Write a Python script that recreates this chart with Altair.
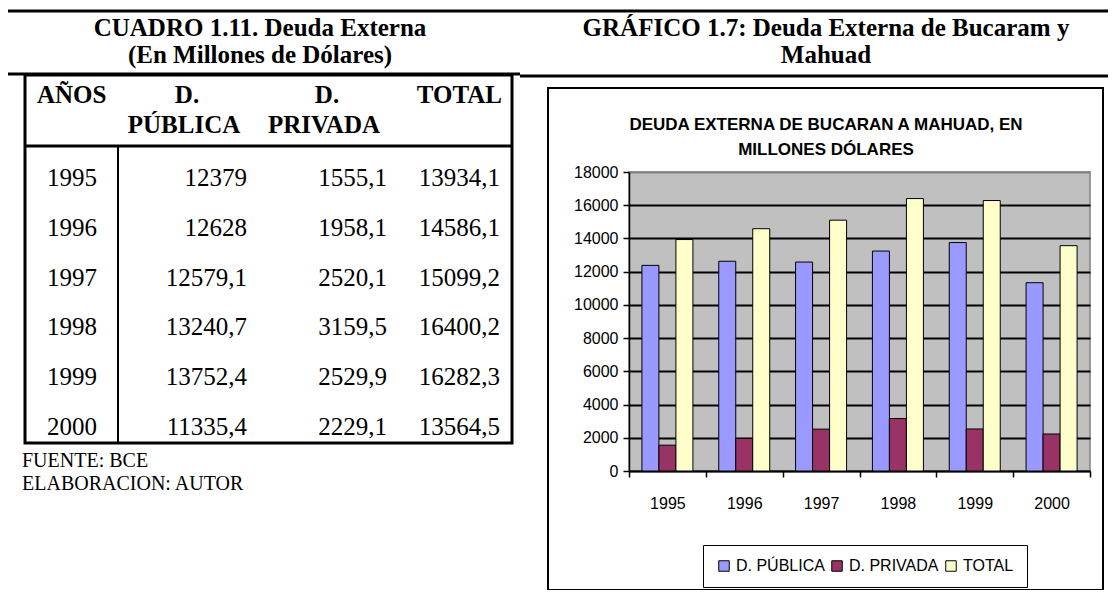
import altair as alt
import pandas as pd

# ---------------- data ----------------
years = ["1995", "1996", "1997", "1998", "1999", "2000"]
publica = [12379, 12628, 12579.1, 13240.7, 13752.4, 11335.4]
privada = [1555.1, 1958.1, 2520.1, 3159.5, 2529.9, 2229.1]
total = [13934.1, 14586.1, 15099.2, 16400.2, 16282.3, 13564.5]
series = ["D. PÚBLICA", "D. PRIVADA", "TOTAL"]
colors = ["#9999FF", "#993366", "#FFFFCC"]
y_ticks = [0, 2000, 4000, 6000, 8000, 10000, 12000, 14000, 16000, 18000]


def fmt(v):
    return str(int(v)) if float(v).is_integer() else f"{v:.1f}".replace(".", ",")


bars_df = pd.DataFrame(
    [
        {"year": y, "series": s, "value": v}
        for i, y in enumerate(years)
        for s, v in zip(series, (publica[i], privada[i], total[i]))
    ]
)
table_df = pd.DataFrame(
    {
        "year": years,
        "pub": [fmt(v) for v in publica],
        "priv": [fmt(v) for v in privada],
        "tot": [fmt(v) for v in total],
    }
)
one = pd.DataFrame({"k": [0]})

SERIF = "Liberation Serif"
SANS = "Liberation Sans"

W, H = 461, 299


def label(txt, x, y, **kw):
    return alt.Chart(one).mark_text(text=txt, **kw).encode(x=alt.value(x), y=alt.value(y))


def hline(x1, x2, y, w=3):
    return alt.Chart(one).mark_rule(color="black", strokeWidth=w).encode(
        x=alt.value(x1), x2=alt.value(x2), y=alt.value(y)
    )


def box(x1, x2, y1, y2, w=2):
    return alt.Chart(one).mark_rect(fillOpacity=0, stroke="black", strokeWidth=w).encode(
        x=alt.value(x1), x2=alt.value(x2), y=alt.value(y1), y2=alt.value(y2)
    )


# ---------------- bar chart ----------------
bars = alt.Chart(bars_df).mark_bar(stroke="black", strokeWidth=1).encode(
    x=alt.X(
        "year:N",
        sort=years,
        scale=alt.Scale(paddingInner=0, paddingOuter=0),
        axis=alt.Axis(
            title=None, labelAngle=0, labelFontSize=16, labelFont=SANS, labelColor="black",
            tickBand="extent", tickSize=6, tickColor="black", tickWidth=1.5,
            domainColor="black", domainWidth=1.5, labelPadding=18, grid=False,
        ),
    ),
    xOffset=alt.XOffset("series:N", sort=series,
                        scale=alt.Scale(paddingOuter=0.76, paddingInner=0)),
    y=alt.Y(
        "value:Q",
        scale=alt.Scale(domain=[0, 18000], nice=False),
        axis=alt.Axis(
            title=None, values=y_ticks, format="d", labelFontSize=16, labelFont=SANS,
            labelColor="black", tickSize=6, tickColor="black", tickWidth=1.5,
            domainColor="black", domainWidth=1.5, labelPadding=5, grid=True, gridWidth=1.8,
            gridColor={"condition": {"test": "datum.value >= 18000", "value": "#808080"},
                       "value": "black"},
        ),
    ),
    color=alt.Color(
        "series:N", sort=series,
        scale=alt.Scale(domain=series, range=colors),
        legend=alt.Legend(
            title=None, orient="none", legendX=74, legendY=373, direction="horizontal",
            strokeColor="black", fillColor="white", padding=13, symbolType="square",
            symbolSize=110, symbolStrokeColor="black", symbolStrokeWidth=1,
            labelFontSize=16, labelFont=SANS, labelColor="black", columnPadding=4, labelOffset=4,
        ),
    ),
)

# ---------------- table ----------------
row_scale = alt.Scale(type="point", domain=years, range=[6, 255], padding=0)


def col(field, x, align):
    return alt.Chart(table_df).mark_text(
        font=SERIF, fontSize=25, align=align, baseline="middle", color="black"
    ).encode(
        x=alt.value(x),
        y=alt.Y("year:N", scale=row_scale, axis=None),
        text=f"{field}:N",
    )


table_layers = [
    col("year", -557, "center"),
    col("pub", -382, "right"),
    col("priv", -242, "right"),
    col("tot", -129, "right"),
]

hdr = dict(font=SERIF, fontSize=25, fontWeight="bold", baseline="middle", color="black")
headers = [
    label("AÑOS", -592, -77, align="left", **hdr),
    label("D.", -442, -77, align="center", **hdr),
    label("D.", -302, -77, align="center", **hdr),
    label("TOTAL", -127, -77, align="right", **hdr),
    label("PÚBLICA", -445, -47, align="center", **hdr),
    label("PRIVADA", -305, -47, align="center", **hdr),
]

ttl = dict(font=SERIF, fontSize=25, fontWeight="bold", baseline="middle", align="center",
           color="black")
titles = [
    label("CUADRO 1.11. Deuda Externa", -369, -144, **ttl),
    label("(En Millones de Dólares)", -369, -117, **ttl),
    label("GRÁFICO 1.7: Deuda Externa de Bucaram y", 197, -144, **ttl),
    label("Mahuad", 197, -117, **ttl),
]

notes = [
    label("FUENTE: BCE", -607, 289, font=SERIF, fontSize=20, align="left", baseline="middle",
          color="black"),
    label("ELABORACION: AUTOR", -607, 312, font=SERIF, fontSize=20, align="left",
          baseline="middle", color="black"),
]

chart_title = [
    label("DEUDA EXTERNA  DE BUCARAN A MAHUAD, EN", 197, -47, font=SANS, fontSize=17,
          fontWeight="bold", align="center", baseline="middle", color="black"),
    label("MILLONES DÓLARES", 197, -22, font=SANS, fontSize=17, fontWeight="bold",
          align="center", baseline="middle", color="black"),
]

lines = [
    hline(-622, 480, -161, 3),
    hline(-622, -109, -98, 3),
    hline(-109, 480, -96, 3),
    box(-604, -117, -97, 271, 3),
    hline(-604, -117, -26, 3),
    alt.Chart(one).mark_rule(color="black", strokeWidth=2).encode(
        x=alt.value(-511), y=alt.value(-26), y2=alt.value(271)
    ),
    box(-81, 474, -84, 418, 2),
]

chart = (
    alt.layer(*lines, bars, *table_layers, *headers, *titles, *notes, *chart_title)
    .resolve_scale(y="independent")
    .properties(
        width=W,
        height=H,
        autosize=alt.AutoSizeParams(type="none"),
        padding={"left": 621, "top": 164, "right": 18, "bottom": 119},
        background="white",
    )
    .configure_view(fill="#C0C0C0", stroke="#808080", strokeWidth=1.5)
)

chart.save("out.html", embed_options={"renderer": "svg", "actions": False})
